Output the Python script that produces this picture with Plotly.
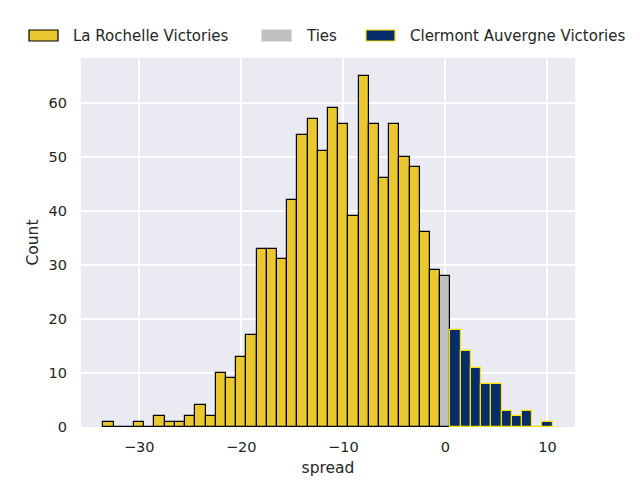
import plotly.graph_objects as go

# histogram of score spread, one bin per point (bins centred on integers)
spread = list(range(-33, 11))
counts = [1, 0, 0, 1, 0, 2, 1, 1, 2, 4, 2, 10, 9, 13, 17, 33, 33, 31, 42, 54, 57, 51,
          59, 56, 39, 65, 56, 46, 56, 50, 48, 36, 29, 28, 18, 14, 11, 8, 8, 3, 2, 3, 0, 1]

labels = ["La Rochelle Victories", "Ties", "Clermont Auvergne Victories"]
fills = ["#E8C82E", "#C0C0C0", "#062C6A"]
edges = ["#000000", "#000000", "#F5E100"]
legend_edges = ["#000000", "#C0C0C0", "#F5E100"]

x_ticks = [-30, -20, -10, 0, 10]
x_ticktext = ["\u221230", "\u221220", "\u221210", "0", "10"]

groups = [
    [(s, c) for s, c in zip(spread, counts) if s < 0],
    [(s, c) for s, c in zip(spread, counts) if s == 0],
    [(s, c) for s, c in zip(spread, counts) if s > 0],
]

fig = go.Figure()
for lab, pts, fc, ec in zip(labels, groups, fills, edges):
    fig.add_trace(go.Bar(
        x=[p[0] for p in pts], y=[p[1] for p in pts], name=lab,
        width=1, marker=dict(color=fc, line=dict(color=ec, width=1.2)),
        showlegend=False,
    ))

font = "DejaVu Sans, Liberation Sans, sans-serif"

# legend drawn by hand above the plot, like the matplotlib one
# (page body has an 8px margin, so margins below are shifted by 8)
leg_x = [29, 262, 366]
for lab, fc, ec, px0 in zip(labels, fills, legend_edges, leg_x):
    fig.add_shape(type="rect", xref="paper", yref="paper",
                  x0=(px0 - 81) / 494, x1=(px0 + 29 - 81) / 494,
                  y0=(427 - 41) / 369, y1=(427 - 30) / 369,
                  fillcolor=fc, line=dict(color=ec, width=1.2))
    fig.add_annotation(xref="paper", yref="paper",
                       x=(px0 + 42 - 81) / 494, y=(427 - 36) / 369,
                       text=lab, showarrow=False, xanchor="left", yanchor="middle",
                       font=dict(family=font, size=15, color="#262626"))

fig.update_layout(
    width=640, height=480,
    margin=dict(l=73, r=73, t=50, b=61),
    paper_bgcolor="white", plot_bgcolor="#EAEAF2",
    bargap=0, barmode="overlay",
    font=dict(family=font, size=14.5, color="#262626"),
    xaxis=dict(range=[-35.7, 12.7], tickvals=x_ticks, ticktext=x_ticktext,
               showgrid=True, gridcolor="white", gridwidth=1.6, zeroline=False,
               ticks="", ticklabelstandoff=9,
               title=dict(text="spread", font=dict(size=15.5), standoff=8)),
    yaxis=dict(range=[0, 68.25], dtick=10, showgrid=True, gridcolor="white",
               gridwidth=1.6, zeroline=False, ticks="", ticklabelstandoff=13,
               title=dict(text="Count", font=dict(size=15.5), standoff=6)),
)

fig.write_html("out.html")
